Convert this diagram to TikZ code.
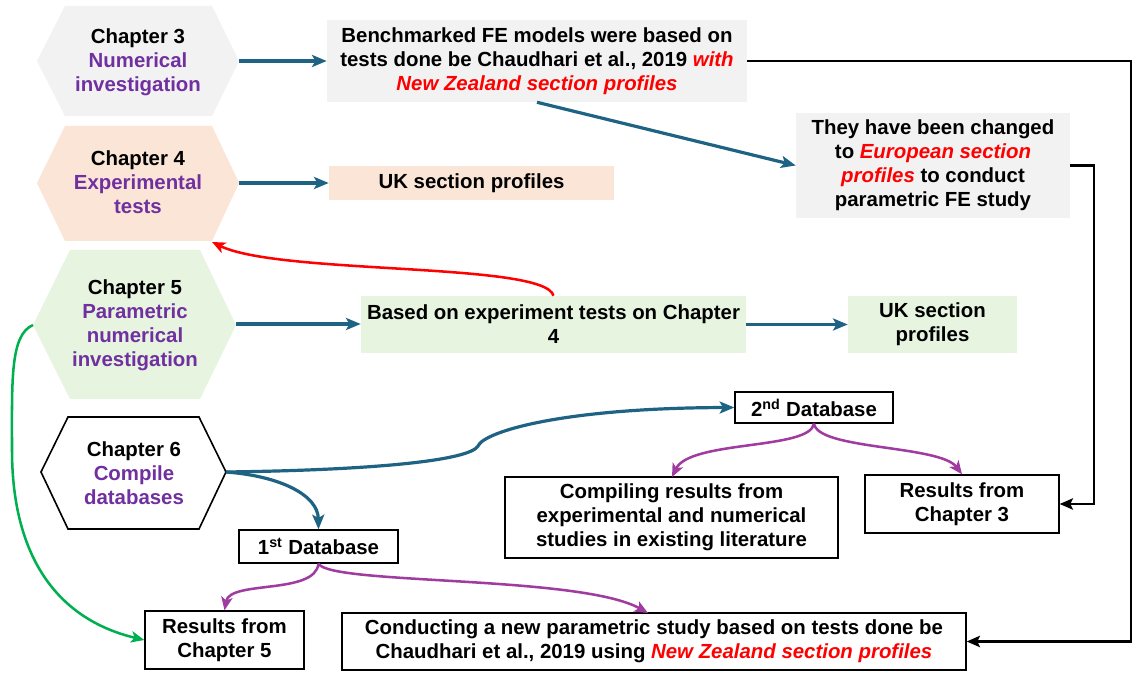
\documentclass[tikz,border=0pt]{standalone}
\usepackage{fontspec}
\setmainfont{Liberation Sans}
\usetikzlibrary{arrows.meta}
\definecolor{tealarr}{HTML}{1F6384}
\definecolor{purp}{HTML}{7030A0}
\definecolor{purparr}{HTML}{A03CA0}
\definecolor{gfill}{HTML}{F2F2F2}
\definecolor{pfill}{HTML}{FBE5D6}
\definecolor{lgfill}{HTML}{E6F4E0}
\definecolor{greenarr}{HTML}{00B050}
\definecolor{rtxt}{HTML}{FF0000}
\newcommand{\rit}[1]{\textcolor{rtxt}{\itshape #1}}
\newcommand{\pt}[1]{\textcolor{purp}{#1}}
\begin{document}
\begin{tikzpicture}[x=0.75pt,y=-0.75pt,
  every node/.style={font=\fontsize{15.3}{18}\selectfont\bfseries, align=center, inner sep=0pt},
  box/.style={draw=black, line width=1pt, fill=white},
  greybox/.style={fill=gfill},
  peachbox/.style={fill=pfill},
  greenbox/.style={fill=lgfill},
  tarr/.style={draw=tealarr, line width=2.4pt, -{Stealth[length=11pt,width=9pt,inset=2.5pt]}},
  parr/.style={draw=purparr, line width=1.9pt, -{Stealth[length=10pt,width=8.5pt,inset=2.5pt]}},
  barr/.style={draw=black, line width=1.9pt, -{Stealth[length=10pt,width=8.5pt,inset=2pt]}},
  rarr/.style={draw=rtxt, line width=1.9pt, -{Stealth[length=10pt,width=8.5pt,inset=2.5pt]}},
  garr/.style={draw=greenarr, line width=1.9pt, -{Stealth[length=10pt,width=8.5pt,inset=2.5pt]}}]
\fill[white] (0,0) rectangle (1136,673);
\useasboundingbox (0,0) rectangle (1136,673);

% hexagons
\fill[gfill] (37,61) -- (65,6) -- (212,6) -- (239,61) -- (212,116) -- (65,116) -- cycle;
\fill[pfill] (37,183) -- (65,126) -- (212,126) -- (239,183) -- (212,241) -- (65,241) -- cycle;
\fill[lgfill] (33,325) -- (70,250) -- (200,250) -- (236,325) -- (200,399) -- (70,399) -- cycle;
\draw[line width=1.2pt, fill=white] (41,472) -- (68,417) -- (199,417) -- (226,472) -- (199,529) -- (68,529) -- cycle;

\node (ch3) at (138,62) {Chapter 3\\\pt{Numerical}\\\pt{investigation}};
\node (ch4) at (138,182) {Chapter 4\\\pt{Experimental}\\\pt{tests}};
\node (ch5) at (135,325) {Chapter 5\\\pt{Parametric}\\\pt{numerical}\\\pt{investigation}};
\node (ch6) at (134,473) {Chapter 6\\\pt{Compile}\\\pt{databases}};

\coordinate (ch3r) at (239,61);
\coordinate (ch4r) at (239,183);
\coordinate (ch4b) at (212,242);
\coordinate (ch5r) at (236,324);
\coordinate (ch5l) at (33,325);
\coordinate (ch6r) at (226,472);

% boxes
\node[greybox, minimum width=315pt, minimum height=61.5pt] (bench) at (537,61)
  {Benchmarked FE models were based on\\tests done be Chaudhari et al., 2019 \rit{with}\\\rit{New Zealand section profiles}};
\node[peachbox, minimum width=213.75pt, minimum height=25.5pt] (ukp) at (471.5,183) {UK section profiles};
\node[greybox, minimum width=205.5pt, minimum height=78.75pt] (they) at (933,165.5)
  {They have been changed\\to \rit{European section}\\\rit{profiles} to conduct\\parametric FE study};
\node[greenbox, minimum width=288.75pt, minimum height=42.75pt] (based) at (553.5,324.5)
  {Based on experiment tests on Chapter\\4};
\node[greenbox, minimum width=126.75pt, minimum height=42.75pt] (ukg) at (932.5,324.5) {UK section\\profiles};
\node[box, minimum width=118.5pt, minimum height=23.25pt] (db2) at (814,407.5) {2\textsuperscript{nd} Database};
\node[box, minimum width=249.75pt, minimum height=60.75pt] (comp) at (671.5,517.5)
  {Compiling results from\\experimental and numerical\\studies in existing literature};
\node[box, minimum width=145.5pt, minimum height=43.5pt] (r3) at (962,504) {Results from\\Chapter 3};
\node[box, minimum width=119.25pt, minimum height=24.75pt] (db1) at (318.5,546.5) {1\textsuperscript{st} Database};
\node[box, minimum width=119.25pt, minimum height=43.5pt] (r5) at (224.5,640) {Results from\\Chapter 5};
\node[box, minimum width=468pt, minimum height=42.75pt] (cond) at (654,641.5)
  {Conducting a new parametric study based on tests done be\\Chaudhari et al., 2019 using \rit{New Zealand section profiles}};

% connectors
\draw[tarr] (ch3r) -- (bench.west);
\draw[tarr] (ch4r) -- (ukp.west);
\draw[tarr] (ch5r) -- (based.west |- ch5r);
\draw[tarr] (based.east) -- (ukg.west);
\draw[tarr] (bench.south) -- (they.west);
\draw[rarr] (based.north) .. controls (545,262) and (280,275) .. (ch4b);
\draw[tarr] (ch6r) .. controls (380,470) and (470,460) .. (478,446)
  .. controls (484,432) and (560,408) .. (db2.west);
\draw[tarr] (ch6r) .. controls (280,476) and (318,495) .. (db1.north);
\draw[parr] (db1.south) .. controls (315,595) and (230,580) .. (r5.north);
\draw[parr] (db1.south) .. controls (330,585) and (580,575) .. (648,613);
\draw[parr] (db2.south) .. controls (810,450) and (690,440) .. (672,477);
\draw[parr] (db2.south) .. controls (818,450) and (940,445) .. (r3.north);
\draw[garr] (ch5l) .. controls (10,335) and (12,380) .. (12,450)
  .. controls (12,560) and (60,620) .. (r5.west);
\draw[barr] (bench.east) -- (1131,61) |- (cond.east);
\draw[barr] (they.east) -- (1094,165.5) |- (r3.east);
\end{tikzpicture}
\end{document}
